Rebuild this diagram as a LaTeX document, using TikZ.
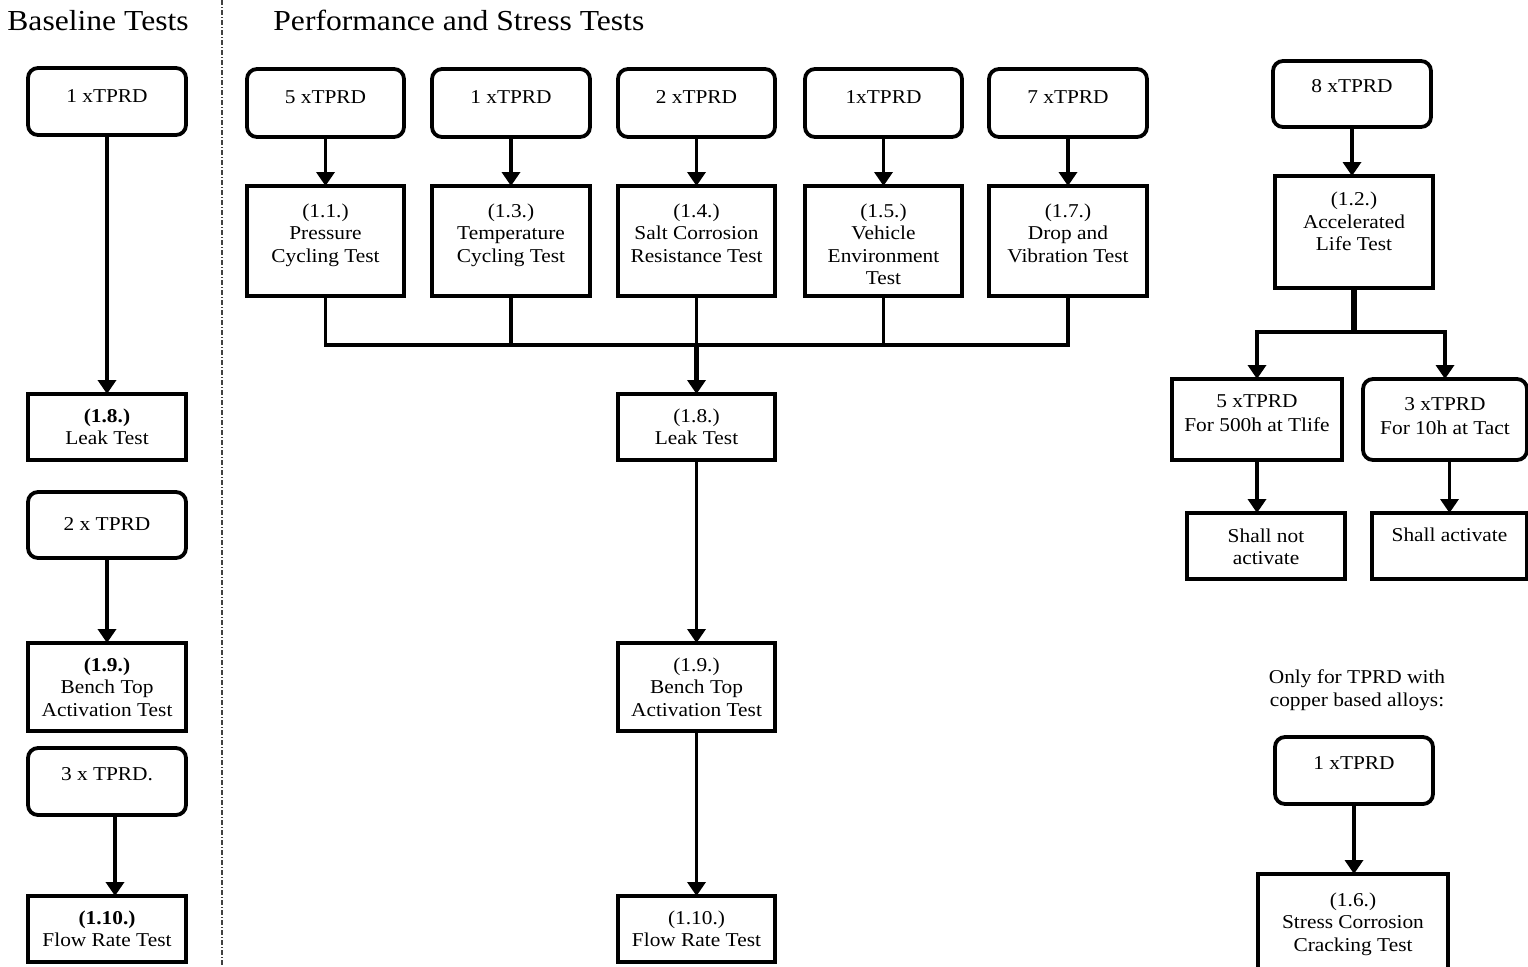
\documentclass[tikz,border=0pt]{standalone}
\usepackage{fontspec}
\setmainfont{Liberation Serif}[FakeStretch=1.09]
\usetikzlibrary{arrows.meta}
\def\pxu{0.5pt}
\newcommand\boxat[6]{\node[#1, minimum width={(#4-#2)*\pxu}, minimum height={(#5-#3)*\pxu}] (#6) at ({(#2+#4)/2},{(#3+#5)/2}) {};}
\newcommand\tboxat[7]{\node[#1, minimum width={(#4-#2)*\pxu}, minimum height={(#5-#3)*\pxu}] (#6) at ({(#2+#4)/2},{(#3+#5)/2}) {#7};}
\begin{document}
\begin{tikzpicture}[x=0.5pt,y=-0.5pt,
  box/.style={draw, line width=1.9pt, inner sep=0pt, outer sep=0pt, font=\fontsize{9.8}{11.25}\selectfont, align=center},
  rbox/.style={box, rounded corners=5pt},
  txt/.style={font=\fontsize{9.8}{11.25}\selectfont, align=center, inner sep=0pt},
  hdr/.style={font=\fontsize{14.5}{17}\selectfont, inner sep=0pt},
  ln/.style={line width=1.75pt},
  arr/.style={line width=1.75pt, -{Triangle[width=9pt,length=7pt]}},
  divider/.style={line width=0.6pt, black!75, dash pattern=on 2.5pt off 1pt on 0.5pt off 1pt}]
\useasboundingbox (0,0) rectangle (1528,966);
\clip (0,0) rectangle (1528,966);

% divider and headers
\coordinate (dtop) at (222,0);
\coordinate (dbot) at (222,966);
\draw[divider] (dtop) -- (dbot);
\node[hdr, anchor=base west] (hb) at (7,30) {Baseline Tests};
\node[hdr, anchor=base west] (hp) at (273,30) {Performance and Stress Tests};

% ---------- Baseline column ----------
\boxat{rbox}{28}{68}{186}{135}{L1}
\node[txt, anchor=base] (L1t) at (107,102) {1 xTPRD};
\tboxat{box}{28}{394}{186}{460}{L2}{\textbf{(1.8.)}\\Leak Test}
\boxat{rbox}{28}{492}{186}{558}{L3}
\node[txt, anchor=base] (L3t) at (107,530) {2 x TPRD};
\tboxat{box}{28}{643}{186}{731}{L4}{\textbf{(1.9.)}\\Bench Top\\Activation Test}
\boxat{rbox}{28}{748}{186}{815}{L5}
\node[txt, anchor=base] (L5t) at (107,780) {3 x TPRD.};
\tboxat{box}{28}{896}{186}{962}{L6}{\textbf{(1.10.)}\\Flow Rate Test}
\draw[arr] (L1) -- (L2);
\draw[arr] (L3) -- (L4);
\draw[arr] ([xshift=4pt]L5.south) -- ([xshift=4pt]L6.north);

% ---------- Performance column ----------
\boxat{rbox}{247}{69}{404}{137}{M1}
\boxat{rbox}{432}{69}{590}{137}{M2}
\boxat{rbox}{618}{69}{775}{137}{M3}
\boxat{rbox}{805}{69}{962}{137}{M4}
\boxat{rbox}{989}{69}{1147}{137}{M5}
\node[txt, anchor=base] (M1t) at (325.5,103) {5 xTPRD};
\node[txt, anchor=base] (M2t) at (511,103) {1 xTPRD};
\node[txt, anchor=base] (M3t) at (696.5,103) {2 xTPRD};
\node[txt, anchor=base] (M4t) at (883.5,103) {1xTPRD};
\node[txt, anchor=base] (M5t) at (1068,103) {7 xTPRD};

\boxat{box}{247}{186}{404}{296}{R1}
\boxat{box}{432}{186}{590}{296}{R2}
\boxat{box}{618}{186}{775}{296}{R3}
\boxat{box}{805}{186}{962}{296}{R4}
\boxat{box}{989}{186}{1147}{296}{R5}
\node[txt, anchor=north] (R1t) at (325.5,203) {(1.1.)\\Pressure\\Cycling Test};
\node[txt, anchor=north] (R2t) at (511,203) {(1.3.)\\Temperature\\Cycling Test};
\node[txt, anchor=north] (R3t) at (696.5,203) {(1.4.)\\Salt Corrosion\\Resistance Test};
\node[txt, anchor=north] (R4t) at (883.5,203) {(1.5.)\\Vehicle\\Environment\\Test};
\node[txt, anchor=north] (R5t) at (1068,203) {(1.7.)\\Drop and\\Vibration Test};

\draw[arr] (M1) -- (R1);
\draw[arr] (M2) -- (R2);
\draw[arr] (M3) -- (R3);
\draw[arr] (M4) -- (R4);
\draw[arr] (M5) -- (R5);

\coordinate (busy) at (0,345);
\draw[ln] (R1.south) -- (R1.south |- busy) -- (R5.south |- busy) -- (R5.south);
\draw[ln] (R2.south) -- (R2.south |- busy);
\draw[ln] (R3.south) -- (R3.south |- busy);
\draw[ln] (R4.south) -- (R4.south |- busy);

\tboxat{box}{618}{394}{775}{460}{C1}{(1.8.)\\Leak Test}
\tboxat{box}{618}{643}{775}{731}{C2}{(1.9.)\\Bench Top\\Activation Test}
\tboxat{box}{618}{896}{775}{962}{C3}{(1.10.)\\Flow Rate Test}
\draw[arr, line width=2.6pt] (R3.south |- busy) -- (C1.north);
\draw[arr] (C1) -- (C2);
\draw[arr] (C2) -- (C3);

% ---------- Right column ----------
\boxat{rbox}{1273}{61}{1431}{127}{T1}
\node[txt, anchor=base] (T1t) at (1352,92) {8 xTPRD};
\boxat{box}{1275}{176}{1433}{288}{T2}
\node[txt, anchor=north] (T2t) at (1354,191.5) {(1.2.)\\Accelerated\\Life Test};
\draw[arr] (T1.south) -- (T1.south |- T2.north);

\coordinate (bry) at (0,332);
\boxat{box}{1172}{379}{1342}{460}{T3}
\node[txt, anchor=north, font=\fontsize{9.8}{12.3}\selectfont] (T3t) at (1257,394) {5 xTPRD\\For 500h at Tlife};
\boxat{rbox}{1363}{379}{1527}{460}{T4}
\node[txt, anchor=north, font=\fontsize{9.8}{12.3}\selectfont] (T4t) at (1445,397) {3 xTPRD\\For 10h at Tact};
\draw[line width=2.6pt] (T2.south) -- (T2.south |- bry);
\draw[arr] (T2.south |- bry) -| (T3.north);
\draw[arr] (T2.south |- bry) -| (T4.north);

\boxat{box}{1187}{513}{1345}{579}{T5}
\node[txt, anchor=north] (T5t) at (1266,528) {Shall not\\activate};
\boxat{box}{1372}{513}{1527}{579}{T6}
\node[txt, anchor=base] (T6t) at (1449.5,541.5) {Shall activate};
\draw[arr] (T3.south) -- (T3.south |- T5.north);
\draw[arr] (T6.north |- T4.south) -- (T6.north);

\node[txt, anchor=north] (note) at (1357,669.5) {Only for TPRD with\\copper based alloys:};
\boxat{rbox}{1275}{737}{1433}{804}{T7}
\node[txt, anchor=base] (T7t) at (1354,769) {1 xTPRD};
\boxat{box}{1258}{874}{1448}{1000}{T8}
\node[txt, anchor=north] (T8t) at (1353,892) {(1.6.)\\Stress Corrosion\\Cracking Test};
\draw[arr] (T7.south) -- (T7.south |- T8.north);
\end{tikzpicture}
\end{document}
